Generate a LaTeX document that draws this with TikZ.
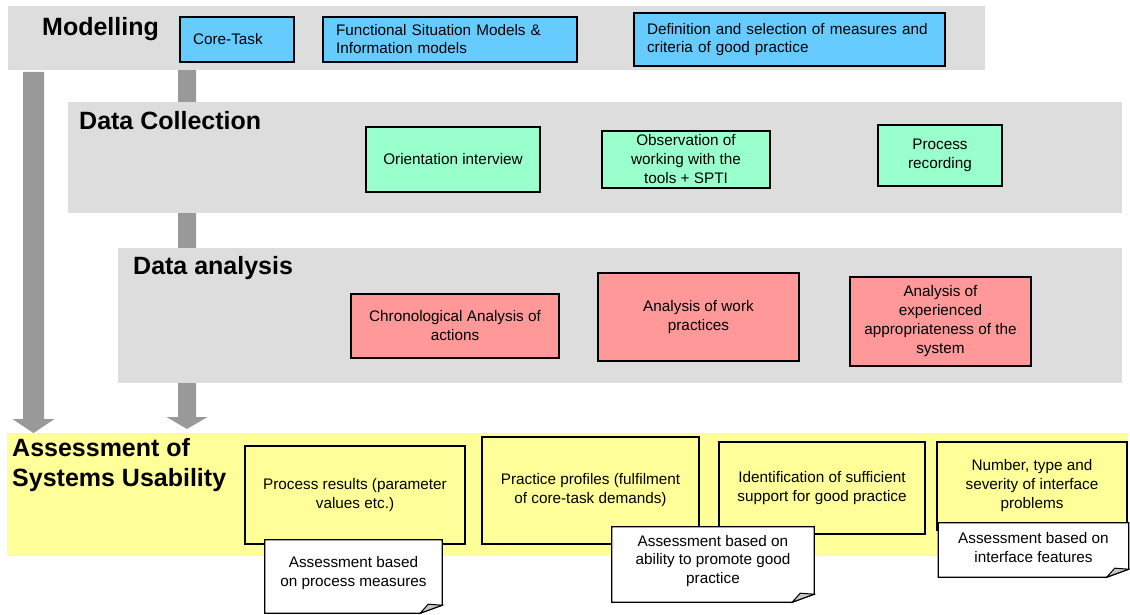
\documentclass[tikz,border=0pt]{standalone}
\usepackage{fontspec}
\setmainfont{Liberation Sans}
\definecolor{bandgray}{HTML}{DDDDDD}
\definecolor{arrowgray}{HTML}{999999}
\definecolor{boxblue}{HTML}{66CCFF}
\definecolor{boxgreen}{HTML}{99FFCC}
\definecolor{boxpink}{HTML}{FF9999}
\definecolor{boxyellow}{HTML}{FFFF99}
\begin{document}
\begin{tikzpicture}[x=1pt,y=-1pt,
  band/.style={fill=#1, draw=none},
  heading/.style={font=\fontsize{25}{30}\selectfont\bfseries, anchor=west, inner sep=0pt, align=left},
  box/.style={draw=black, line width=1.3pt, fill=#1, inner sep=0pt, align=center,
    font=\fontsize{15.3}{19}\selectfont},
  lbox/.style={draw=black, line width=1.3pt, fill=#1, inner ysep=0pt, inner xsep=13pt, align=left,
    font=\fontsize{15.3}{18}\selectfont},
  note/.style={fill=white, draw=none, inner sep=0pt, align=center, font=\fontsize{15.3}{18.5}\selectfont},
  noteline/.style={draw=black, line width=1.3pt, line join=miter},
  fold/.style={fill=gray!45, draw=black, line width=1pt},
  blockarrow/.style={fill=arrowgray, draw=none}
]
\useasboundingbox (0,0) rectangle (1130,615);

% block arrows (behind the bands)
\coordinate (la0) at (33.5,72);
\coordinate (la1) at (33.5,433);
\coordinate (ma0) at (187,60);
\coordinate (ma1) at (187,429);
\fill[blockarrow] ([xshift=-10.5pt]la0) -- ([xshift=10.5pt]la0) -- ([xshift=10.5pt,yshift=14pt]la1)
  -- ([xshift=21pt,yshift=14pt]la1) -- (la1) -- ([xshift=-21pt,yshift=14pt]la1)
  -- ([xshift=-10.5pt,yshift=14pt]la1) -- cycle;
\fill[blockarrow] ([xshift=-9pt]ma0) -- ([xshift=9pt]ma0) -- ([xshift=9pt,yshift=12pt]ma1)
  -- ([xshift=20.5pt,yshift=12pt]ma1) -- (ma1) -- ([xshift=-20.5pt,yshift=12pt]ma1)
  -- ([xshift=-9pt,yshift=12pt]ma1) -- cycle;

% bands
\fill[band=bandgray] (8,6) rectangle (985,70);
\fill[band=bandgray] (68,102) rectangle (1122,213);
\fill[band=bandgray] (118,248) rectangle (1122,383);
\fill[band=boxyellow] (7,433) rectangle (1128,556);

% headings
\node[heading] (hmod) at (42,29) {Modelling};
\node[heading] (hdc) at (79,121) {Data Collection};
\node[heading] (hda) at (133,268) {Data analysis};
\node[heading] (has) at (12,465) {Assessment of\\Systems Usability};

% modelling boxes
\node[lbox=boxblue, text width=88pt, minimum height=45pt] (core) at (237,39.5) {Core-Task};
\node[lbox=boxblue, text width=228pt, minimum height=45pt] (func) at (450,39.5) {Functional Situation Models \&\\Information models};
\node[lbox=boxblue, text width=285pt, minimum height=53pt] (defn) at (789.5,39.5) {Definition and selection of measures and\\criteria of good practice};

% data collection boxes
\node[box=boxgreen, minimum width=174pt, minimum height=65pt] (orient) at (453,159.5) {Orientation interview};
\node[box=boxgreen, minimum width=168pt, minimum height=57pt] (obs) at (686,159.5) {Observation of\\working with the\\tools + SPTI};
\node[box=boxgreen, minimum width=124pt, minimum height=61pt] (prec) at (940,155.5) {Process\\recording};

% data analysis boxes
\node[box=boxpink, minimum width=208pt, minimum height=64pt] (chron) at (455,326) {Chronological Analysis of\\actions};
\node[box=boxpink, minimum width=201pt, minimum height=88pt] (work) at (698.5,317) {Analysis of work\\practices};
\node[box=boxpink, minimum width=181pt, minimum height=89pt] (exp) at (940.5,321.5) {Analysis of\\experienced\\appropriateness of the\\system};

% assessment boxes
\node[box=boxyellow, minimum width=220pt, minimum height=98pt] (pres) at (355,495) {Process results (parameter\\values etc.)};
\node[box=boxyellow, minimum width=217pt, minimum height=107pt] (pprof) at (590.5,490.5) {Practice profiles (fulfilment\\of core-task demands)};
\node[box=boxyellow, minimum width=206pt, minimum height=92pt] (ident) at (822,488) {Identification of sufficient\\support for good practice};
\node[box=boxyellow, minimum width=190pt, minimum height=88pt] (numb) at (1032,486) {Number, type and\\severity of interface\\problems};

% notes with folded corners (node = upper part; outline extends below by \e)
\node[note, minimum width=177pt, minimum height=66pt] (n1) at (353.5,573) {Assessment based\\on process measures};
\node[note, minimum width=202pt, minimum height=68pt] (n2) at (713,561) {Assessment based on\\ability to promote good\\practice};
\node[note, minimum width=190pt, minimum height=49pt] (n3) at (1033.5,547.5) {Assessment based on\\interface features};

\foreach \n/\e in {n1/7,n2/7,n3/5}{
  \fill[white] (\n.south west) rectangle ([yshift=-\e pt]\n.south east);
  \draw[noteline] (\n.north west) -- (\n.north east) -- ([yshift=8pt-\e pt]\n.south east)
    -- ([xshift=-22pt,yshift=-\e pt]\n.south east) -- ([yshift=-\e pt]\n.south west) -- cycle;
  \draw[fold] ([xshift=-22pt,yshift=-\e pt]\n.south east) -- ([xshift=-14pt,yshift=9pt-\e pt]\n.south east)
    -- ([yshift=8pt-\e pt]\n.south east) -- cycle;
}
\end{tikzpicture}
\end{document}
